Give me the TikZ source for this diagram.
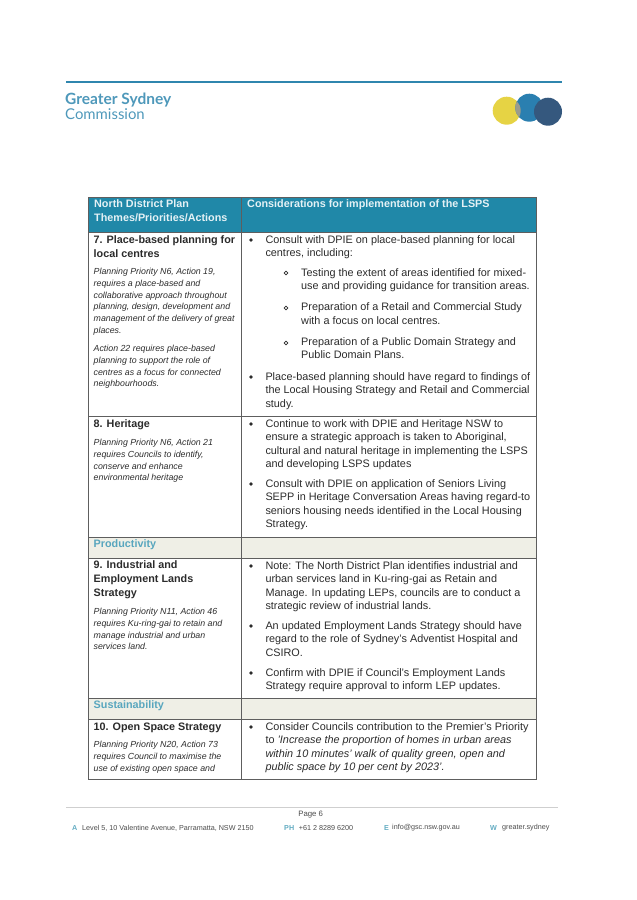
\documentclass[tikz,border=0pt]{standalone}
\usepackage{fontspec}
\setmainfont{Liberation Sans}
\newfontfamily\logofont{Lato}
\definecolor{headteal}{HTML}{2088A8}
\definecolor{bandgrey}{HTML}{EFEFE6}
\definecolor{ruleblue}{HTML}{2F86AE}
\definecolor{gridgrey}{HTML}{5E5E5E}
\definecolor{inktext}{HTML}{2B2B2B}
\definecolor{logoyellow}{HTML}{E6D344}
\definecolor{logoblue}{HTML}{2A7FB0}
\definecolor{logonavy}{HTML}{35587E}
\definecolor{logogrey}{HTML}{9C9C8C}
\tikzset{
  bodytext/.style={anchor=north west, inner sep=0pt, align=left, text=inktext, font=\fontsize{10.85}{13.5}\selectfont},
  titletext/.style={anchor=north west, inner sep=0pt, align=left, text=inktext, font=\fontsize{10.8}{14}\selectfont\bfseries},
  smalltext/.style={anchor=north west, inner sep=0pt, align=left, text=inktext, font=\fontsize{8.8}{11.8}\selectfont\itshape},
  headtext/.style={anchor=north west, inner sep=0pt, align=left, text=white!88!headteal, font=\fontsize{10.8}{14}\selectfont\bfseries},
  bandtext/.style={anchor=north west, inner sep=0pt, text=headteal!75!white, font=\fontsize{10.8}{14}\selectfont\bfseries},
  dotmark/.style={circle, fill=inktext, inner sep=0pt, minimum size=3.6pt},
  ringmark/.style={circle, draw=inktext, inner sep=0pt, minimum size=3.8pt, line width=.6pt},
  footlabel/.style={anchor=west, inner sep=0pt, text=inktext!85!white, font=\fontsize{7.2}{9}\selectfont},
  footkey/.style={anchor=west, inner sep=0pt, text=headteal!70!white, font=\fontsize{7.2}{9}\selectfont\bfseries},
  gridline/.style={draw=gridgrey, line width=.9pt}
}
\begin{document}
\begin{tikzpicture}[x=1pt, y=-1pt]
  \useasboundingbox (0, 0) rectangle (637, 900);
  % page head
  \draw[ruleblue, line width=1.1pt] (66, 82) -- (562, 82);
  \node[anchor=west, inner sep=0pt, text=ruleblue!85!white, font=\logofont\fontsize{15.5}{16}\selectfont\bfseries] (logoa) at (65, 100) {Greater Sydney};
  \node[anchor=west, inner sep=0pt, text=ruleblue!85!white, font=\logofont\fontsize{14.9}{16}\selectfont] (logob) at (65, 114.5) {Commission};
  \fill[logoyellow] (506.7, 110.7) circle (14);
  \fill[logoblue] (529.3, 107.7) circle (14);
  \begin{scope}
    \clip (506.7, 110.7) circle (14);
    \fill[logogrey] (529.3, 107.7) circle (14);
  \end{scope}
  \fill[logonavy] (548, 111.7) circle (14);
  % table fills
  \fill[headteal] (88, 197.5) rectangle (536.5, 232.5);
  \fill[bandgrey] (88, 537.5) rectangle (536.5, 558);
  \fill[bandgrey] (88, 698) rectangle (536.5, 719);
  \foreach \y in {232.5, 416, 537.5, 558, 698, 719}
    \draw[gridline] (88, \y) -- (536.5, \y);
  \draw[gridline] (88, 197.5) rectangle (536.5, 779);
  \draw[gridline] (241.5, 197.5) -- (241.5, 779);
  % header
  \node[headtext] (headleft) at (94, 199) {North District Plan\\Themes/Priorities/Actions};
  \node[headtext] (headright) at (247, 199) {Considerations for implementation of the LSPS};
  % left column
  \node[titletext] (plantitle) at (93.5, 235) {7. Place-based planning for\\local centres};
  \node[smalltext] (plana) at (93.5, 268) {Planning Priority N6, Action 19,\\requires a place-based and\\collaborative approach throughout\\planning, design, development and\\management of the delivery of great\\places.};
  \node[smalltext] (planb) at (93.5, 345) {Action 22 requires place-based\\planning to support the role of\\centres as a focus for connected\\neighbourhoods.};
  \node[titletext] (herititle) at (93.5, 419) {8. Heritage};
  \node[smalltext] (heria) at (93.5, 439) {Planning Priority N6, Action 21\\requires Councils to identify,\\conserve and enhance\\environmental heritage};
  \node[bandtext] (bandprod) at (93.5, 539.5) {Productivity};
  \node[titletext] (indtitle) at (93.5, 560) {9. Industrial and\\Employment Lands\\Strategy};
  \node[smalltext] (inda) at (93.5, 608) {Planning Priority N11, Action 46\\requires Ku-ring-gai to retain and\\manage industrial and urban\\services land.};
  \node[bandtext] (bandsus) at (93.5, 700.5) {Sustainability};
  \node[titletext] (opentitle) at (93.5, 722.5) {10. Open Space Strategy};
  \node[smalltext] (opena) at (93.5, 741) {Planning Priority N20, Action 73\\requires Council to maximise the\\use of existing open space and};
  % right column
  \node[bodytext] (consa) at (265.3, 235) {Consult with DPIE on place-based planning for local\\centres, including:};
  \node[bodytext] (consb) at (301, 268) {Testing the extent of areas identified for mixed-\\use and providing guidance for transition areas.};
  \node[bodytext] (consc) at (301, 302.5) {Preparation of a Retail and Commercial Study\\with a focus on local centres.};
  \node[bodytext] (consd) at (301, 337) {Preparation of a Public Domain Strategy and\\Public Domain Plans.};
  \node[bodytext] (conse) at (265.3, 372) {Place-based planning should have regard to findings of\\the Local Housing Strategy and Retail and Commercial\\study.};
  \node[bodytext] (consf) at (265.3, 419) {Continue to work with DPIE and Heritage NSW to\\ensure a strategic approach is taken to Aboriginal,\\cultural and natural heritage in implementing the LSPS\\and developing LSPS updates};
  \node[bodytext] (consg) at (265.3, 479) {Consult with DPIE on application of Seniors Living\\SEPP in Heritage Conversation Areas having regard-to\\seniors housing needs identified in the Local Housing\\Strategy.};
  \node[bodytext] (consh) at (265.3, 561) {Note: The North District Plan identifies industrial and\\urban services land in Ku-ring-gai as Retain and\\Manage. In updating LEPs, councils are to conduct a\\strategic review of industrial lands.};
  \node[bodytext] (consi) at (265.3, 621) {An updated Employment Lands Strategy should have\\regard to the role of Sydney's Adventist Hospital and\\CSIRO.};
  \node[bodytext] (consj) at (265.3, 668) {Confirm with DPIE if Council's Employment Lands\\Strategy require approval to inform LEP updates.};
  \node[bodytext] (consk) at (265.3, 722) {Consider Councils contribution to the Premier's Priority\\to \textit{'Increase the proportion of homes in urban areas}\\\textit{within 10 minutes' walk of quality green, open and}\\\textit{public space by 10 per cent by 2023'.}};
  % bullets
  \foreach \y [count=\k] in {240, 377, 424, 484, 566, 626, 673, 727}
    \node[dotmark] (dot\k) at (251, \y) {};
  \foreach \y [count=\k] in {273, 308, 343}
    \node[ringmark] (ring\k) at (286, \y) {};
  % page foot
  \draw[gridgrey!30!white, line width=.5pt] (66, 807.7) -- (558, 807.7);
  \node[inner sep=0pt, text=inktext!85!white, font=\fontsize{7.8}{9}\selectfont] (pagenum) at (310.7, 815) {Page 6};
  \node[footkey] (keya) at (72, 828) {A};
  \node[footlabel] (adda) at (82, 828) {Level 5, 10 Valentine Avenue, Parramatta, NSW 2150};
  \node[footkey] (keyb) at (284, 828) {PH};
  \node[footlabel] (addb) at (298.7, 828) {+61 2 8289 6200};
  \node[footkey] (keyc) at (384, 828) {E};
  \node[footlabel] (addc) at (392, 828) {info@gsc.nsw.gov.au};
  \node[footkey] (keyd) at (490, 828) {W};
  \node[footlabel] (addd) at (502, 828) {greater.sydney};
\end{tikzpicture}
\end{document}
